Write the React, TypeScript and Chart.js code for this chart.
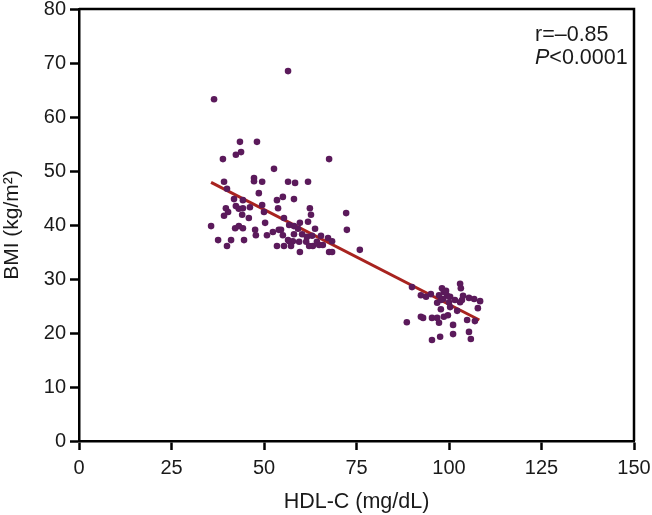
import React, { useEffect, useRef } from "react";
import { Chart, registerables } from "chart.js";

Chart.register(...registerables);

// HDL-C (mg/dL) values of each subject
const HDL_X: number[] = [
  36.5, 43.5, 48.1, 43.8, 42.4, 38.9, 67.6, 52.7, 47.3, 47.3, 49.5, 39.2, 56.5, 58.4, 61.9, 40.0,
  48.6, 41.9, 44.3, 53.5, 55.1, 58.1, 42.4, 46.2, 49.5, 39.7, 40.3, 43.2, 44.3, 53.8, 62.4, 62.7,
  72.2, 39.2, 44.1, 45.9, 55.4, 50.0, 35.7, 42.2, 43.2, 44.3, 47.6, 50.3, 56.8, 58.1, 59.7, 61.9,
  63.8, 72.4, 54.6, 55.1, 52.4, 50.8, 47.8, 59.2, 58.1, 60.3, 61.6, 63.0, 65.4, 67.3, 68.4, 37.6,
  41.1, 44.6, 40.0, 53.5, 55.4, 56.8, 57.8, 57.3, 59.5, 61.4, 62.2, 63.2, 64.9, 65.9, 59.7, 67.6,
  68.4, 75.9, 56.5, 54.0, 64.3, 56.5,
  // high HDL group
  90.0, 92.4, 93.8, 95.1, 98.1, 98.6, 97.3, 99.5, 98.4, 100.3, 103.0, 103.2, 103.8, 105.4, 106.8, 108.4,
  103.0, 96.8, 100.0, 100.3, 97.8, 102.2, 107.8, 88.6, 92.4, 93.0, 95.4, 96.8, 97.3, 98.6, 99.7, 104.9,
  107.0, 101.1, 101.1, 105.4, 105.9, 97.6, 95.4, 99.2, 97.8, 101.6, 103.5,
];

// BMI (kg/m2) values of each subject
const BMI_Y: number[] = [
  63.3, 55.4, 55.4, 53.5, 53.0, 52.2, 52.2, 50.4, 48.7, 48.1, 48.0, 48.0, 48.0, 47.8, 48.0, 46.7,
  45.9, 44.8, 44.6, 44.6, 45.2, 44.8, 43.5, 43.3, 43.7, 43.1, 42.4, 43.0, 43.1, 43.1, 43.1, 41.9,
  42.2, 41.7, 41.9, 41.3, 41.3, 42.4, 39.8, 39.4, 39.8, 39.4, 39.1, 40.4, 40.0, 39.8, 40.4, 40.6,
  39.3, 39.1, 39.1, 38.1, 38.7, 38.1, 38.1, 39.3, 38.3, 38.3, 37.8, 38.0, 38.0, 37.6, 37.0, 37.2,
  37.2, 37.2, 36.1, 36.1, 36.1, 37.0, 37.0, 36.1, 36.9, 36.9, 36.1, 36.1, 36.3, 36.3, 35.0, 35.0,
  35.0, 35.4, 37.2, 39.1, 36.9, 68.5,
  // high HDL group
  28.5, 27.0, 26.7, 27.2, 28.3, 27.6, 27.0, 26.9, 26.3, 26.7, 29.1, 28.3, 26.9, 26.5, 26.3, 25.9,
  25.7, 25.6, 25.7, 24.8, 24.4, 24.1, 24.6, 22.0, 23.0, 22.8, 22.8, 22.8, 21.9, 23.0, 23.3, 22.4,
  22.2, 21.5, 19.8, 20.2, 18.9, 19.3, 18.7, 27.8, 26.1, 26.1, 26.1,
];

// Regression line end points
const FIT_X: number[] = [35.7, 108.2];
const FIT_Y: number[] = [47.9, 22.4];

const X_TICKS: number[] = [0, 25, 50, 75, 100, 125, 150];
const Y_TICKS: number[] = [0, 10, 20, 30, 40, 50, 60, 70, 80];

const R_TEXT = "r=\u20130.85";
const P_LABEL = "P";
const P_TEXT = "<0.0001";

const FONT = "Arial, 'Liberation Sans', Helvetica, sans-serif";
const TEXT_COLOR = "#1a1a1a";

export default function App() {
  const ref = useRef<HTMLCanvasElement | null>(null);

  useEffect(() => {
    if (!ref.current) return;

    const boxPlugin = {
      id: "boxAndStats",
      afterDraw(chart: any) {
        const { ctx, chartArea } = chart;
        ctx.save();
        ctx.strokeStyle = "#000";
        ctx.lineWidth = 2.5;
        ctx.beginPath();
        ctx.moveTo(chartArea.left, chartArea.top);
        ctx.lineTo(chartArea.right, chartArea.top);
        ctx.lineTo(chartArea.right, chartArea.bottom);
        ctx.stroke();

        ctx.fillStyle = TEXT_COLOR;
        ctx.textBaseline = "middle";
        ctx.textAlign = "left";
        ctx.font = `21.5px ${FONT}`;
        const x0 = 535;
        ctx.fillText(R_TEXT, x0, 35);
        ctx.font = `italic 21.5px ${FONT}`;
        ctx.fillText(P_LABEL, x0, 58);
        const w = ctx.measureText(P_LABEL).width;
        ctx.font = `21.5px ${FONT}`;
        ctx.fillText(P_TEXT, x0 + w, 58);
        ctx.restore();
      },
    };

    const points = HDL_X.map((x, i) => ({ x, y: BMI_Y[i] }));
    const fit = FIT_X.map((x, i) => ({ x, y: FIT_Y[i] }));

    const chart = new Chart(ref.current, {
      type: "scatter",
      data: {
        datasets: [
          {
            type: "line" as any,
            data: fit,
            borderColor: "#a8231f",
            borderWidth: 3,
            pointRadius: 0,
            fill: false,
            order: 2,
          },
          {
            data: points,
            backgroundColor: "#5b1a5b",
            borderColor: "#5b1a5b",
            borderWidth: 0,
            pointRadius: 3.3,
            order: 1,
          },
        ],
      },
      options: {
        animation: false,
        responsive: true,
        maintainAspectRatio: false,
        layout: { padding: { top: 9, right: 18, bottom: 0, left: 0 } },
        plugins: {
          legend: { display: false },
          tooltip: { enabled: false },
        },
        scales: {
          x: {
            type: "linear",
            min: 0,
            max: 150,
            afterBuildTicks: (scale: any) => {
              scale.ticks = X_TICKS.map((v) => ({ value: v }));
            },
            afterFit: (scale: any) => {
              scale.height = 74;
              scale.paddingLeft = 0;
              scale.paddingRight = 0;
            },
            grid: {
              drawOnChartArea: false,
              drawTicks: true,
              tickLength: 9,
              tickWidth: 2.5,
              tickColor: "#000",
            },
            border: { display: true, color: "#000", width: 2.5 },
            ticks: {
              color: TEXT_COLOR,
              font: { family: FONT, size: 20 },
              padding: 6,
              maxRotation: 0,
            },
            title: {
              display: true,
              text: "HDL-C (mg/dL)",
              color: TEXT_COLOR,
              font: { family: FONT, size: 21.5 },
              padding: { top: 0, bottom: 0 },
            },
          },
          y: {
            type: "linear",
            min: 0,
            max: 80,
            afterBuildTicks: (scale: any) => {
              scale.ticks = Y_TICKS.map((v) => ({ value: v }));
            },
            afterFit: (scale: any) => {
              scale.width = 79;
              scale.paddingTop = 0;
              scale.paddingBottom = 0;
            },
            grid: {
              drawOnChartArea: false,
              drawTicks: true,
              tickLength: 9,
              tickWidth: 2.5,
              tickColor: "#000",
            },
            border: { display: true, color: "#000", width: 2.5 },
            ticks: {
              color: TEXT_COLOR,
              font: { family: FONT, size: 20 },
              padding: 4,
            },
            title: {
              display: true,
              text: "BMI (kg/m\u00b2)",
              color: TEXT_COLOR,
              font: { family: FONT, size: 21 },
              padding: { top: 0, bottom: 0 },
            },
          },
        },
      },
      plugins: [boxPlugin],
    });

    return () => chart.destroy();
  }, []);

  return (
    <div style={{ position: "fixed", left: 0, top: 0, width: 652, height: 515, background: "#fff" }}>
      <canvas ref={ref} />
    </div>
  );
}
